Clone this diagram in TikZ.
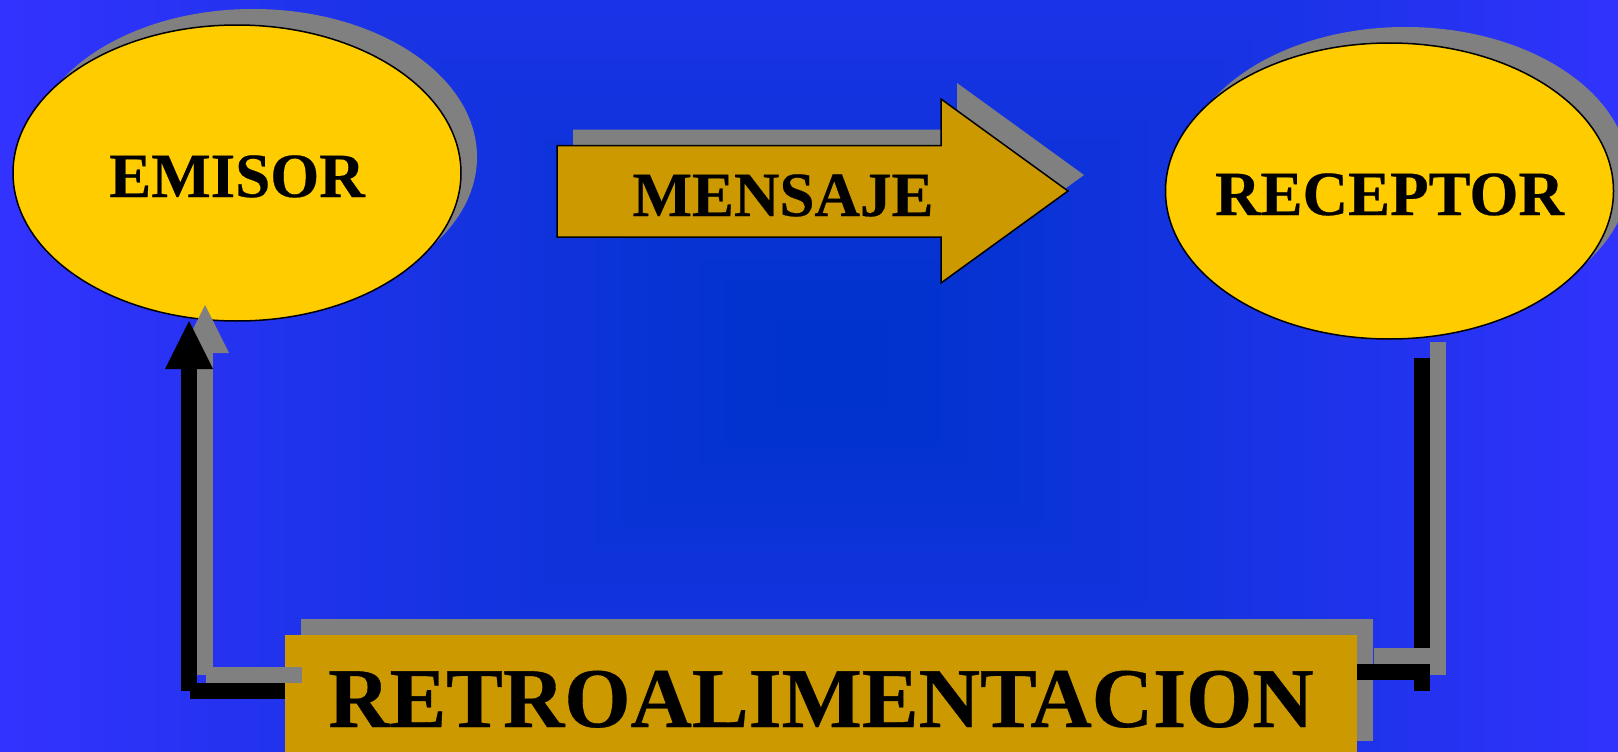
\documentclass[tikz,border=0pt]{standalone}
\usepackage{fontspec}
\setmainfont{Liberation Serif}[BoldFeatures={FakeBold=0.4}]
\usetikzlibrary{shapes.geometric,shadows,arrows.meta}
\definecolor{bgedge}{RGB}{51,51,255}
\definecolor{bgcenter}{RGB}{0,51,204}
\definecolor{ovalfill}{RGB}{255,204,0}
\definecolor{boxfill}{RGB}{204,153,0}
\definecolor{shadegray}{RGB}{128,128,128}
\tikzset{
  shadowed/.style={drop shadow={shadow xshift=16pt,shadow yshift=16pt,fill=shadegray,opacity=1}},
  bigfont/.style={font=\fontsize{63pt}{63pt}\selectfont\bfseries},
  oval/.style={ellipse, draw=black, line width=1.5pt, fill=ovalfill,
    minimum width=448pt, minimum height=296pt, inner xsep=-70pt, inner ysep=0pt,
    text height=48pt, text depth=0pt, bigfont, shadowed},
  retrobox/.style={fill=boxfill, minimum width=1072pt, minimum height=122pt,
    inner sep=0pt, text height=62pt, text depth=0pt,
    font=\fontsize{85pt}{85pt}\selectfont\bfseries, shadowed},
  fbline/.style={line width=16pt, line cap=butt, draw=black},
  fbshade/.style={line width=16pt, line cap=butt, draw=shadegray},
  fbtip/.style={-{Triangle[length=48pt,width=48pt,line width=0pt]}},
}
\begin{document}
\begin{tikzpicture}[x=1pt,y=-1pt]
\useasboundingbox (0,0) rectangle (1618,752);
\begin{scope}
\clip (0,0) rectangle (1618,752);
% background: rectangular gradient from the centre
\fill[bgedge] (0,0) rectangle (1618,752);
\foreach \i in {30,29,...,0} {
  \pgfmathsetmacro\hw{56.5+25.8833*\i}
  \pgfmathsetmacro\hh{0.77*\hw}
  \pgfmathsetmacro\pc{3.33333*\i}
  \fill[bgedge!\pc!bgcenter] (833-\hw,363-\hh) rectangle (833+\hw,363+\hh);
}
% ovals
\node[oval] (emisor) at (237,173) {EMISOR};
\node[oval] (receptor) at (1389.5,191) {RECEPTOR};
% message arrow
\fill[shadegray] (573,129.5) -- (957,129.5) -- (957,83) -- (1084,175) -- (957,267) -- (957,221) -- (573,221) -- cycle;
\filldraw[fill=boxfill, draw=black, line width=1.5pt, line join=miter]
  (557,145.5) -- (941,145.5) -- (941,99) -- (1068,191) -- (941,283) -- (941,237) -- (557,237) -- cycle;
\node[bigfont, anchor=base, inner sep=0pt] (mensaje) at (783,216) {MENSAJE};
% feedback box
\node[retrobox] (retro) at (821,696) {RETROALIMENTACION};
% feedback connectors
\coordinate (lgA) at (302,675);
\coordinate (lgB) at (206,675);
\coordinate (lgC) at (205,675);
\coordinate (lgD) at (205,305);
\coordinate (lbA) at (285,691);
\coordinate (lbB) at (190,691);
\coordinate (lbC) at (189,691);
\coordinate (lbD) at (189,321);
\coordinate (rbA) at (1422,358);
\coordinate (rbB) at (1422,691);
\coordinate (rbC) at (1357,672);
\coordinate (rbD) at (1430,672);
\coordinate (rgA) at (1438,342);
\coordinate (rgB) at (1438,675);
\coordinate (rgC) at (1374,656);
\coordinate (rgD) at (1446,656);
\draw[fbshade] (lgA) -- (lgB);
\draw[fbshade, fbtip] (lgC) -- (lgD);
\draw[fbline] (lbA) -- (lbB);
\draw[fbline, fbtip] (lbC) -- (lbD);
\draw[fbline] (rbA) -- (rbB);
\draw[fbline] (rbC) -- (rbD);
\draw[fbshade] (rgA) -- (rgB);
\draw[fbshade] (rgC) -- (rgD);
\end{scope}
\end{tikzpicture}
\end{document}
